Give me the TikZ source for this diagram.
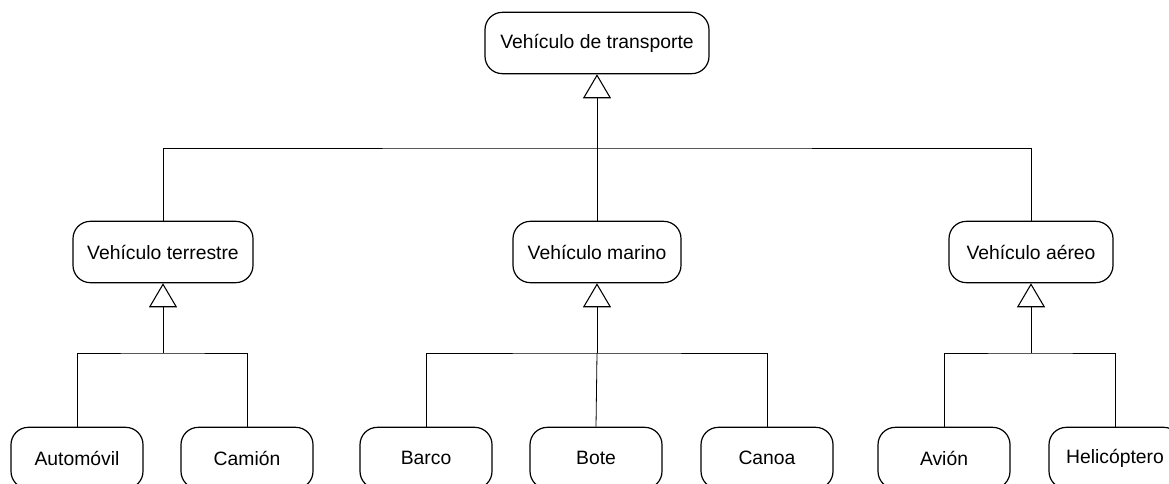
\documentclass[tikz,border=0pt]{standalone}
\usepackage{fontspec}
\setmainfont{Liberation Sans}
\usetikzlibrary{arrows.meta}
\begin{document}
\begin{tikzpicture}[x=0.75pt,y=-0.75pt,
  box/.style={draw,line width=0.9pt,rounded corners=13pt,minimum height=46pt,inner sep=0pt,
    font=\fontsize{14.5}{17}\selectfont},
  leaf/.style={box,minimum width=99pt},
  link/.style={line width=0.6pt},
  isa/.style={link,-{Triangle[open,length=18pt,width=21pt,line width=0.8pt]}}]
\useasboundingbox (0,0) rectangle (1169,484);
\clip (0,0) rectangle (1169,484);
% nodes
\node[box,minimum width=168pt] (top) at (597,43) {Vehículo de transporte};
\node[box,minimum width=135pt] (ter) at (163,252) {Vehículo terrestre};
\node[box,minimum width=126pt] (mar) at (597,252) {Vehículo marino};
\node[box,minimum width=123pt] (aer) at (1031,252) {Vehículo aéreo};
\node[leaf] (auto) at (77,458) {Automóvil};
\node[leaf] (cam) at (247,458) {Camión};
\node[leaf] (barco) at (426,458) {Barco};
\node[leaf] (bote) at (596,458) {Bote};
\node[leaf] (canoa) at (767,458) {Canoa};
\node[leaf] (avion) at (944,458) {Avión};
\node[leaf] (heli) at (1115,458) {Helicóptero};
% junctions
\coordinate (j0) at (597,148);
\coordinate (j1) at (163,353);
\coordinate (j2) at (597,353);
\coordinate (j3) at (1031,353);
% top level
\draw[isa] (j0) -- (top);
\draw[link] (ter.north) |- (j0) -| (aer.north);
\draw[link] (j0) -- (mar.north);
% terrestre
\draw[isa] (j1) -- (ter);
\draw[link] (auto.north) |- (j1) -| (cam.north);
% marino
\draw[isa] (j2) -- (mar);
\draw[link] (barco.north) |- (j2) -| (canoa.north);
\draw[link] (j2) -- (bote.north);
% aereo
\draw[isa] (j3) -- (aer);
\draw[link] (avion.north) |- (j3) -| (heli.north);
\end{tikzpicture}
\end{document}
